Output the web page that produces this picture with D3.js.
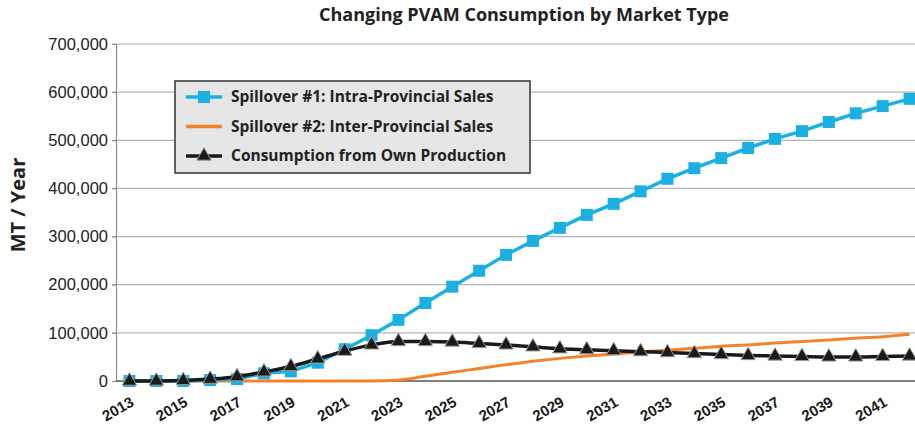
<!DOCTYPE html>
<html>
<head>
<meta charset="utf-8">
<script src="https://cdn.jsdelivr.net/npm/d3@7"></script>
<style>
  body { margin: 0; background: #fff; }
  svg { display: block; font-family: "Open Sans", "Noto Sans", sans-serif; }
</style>
</head>
<body>
<div id="chart"></div>
<script>
var years = d3.range(2013, 2043);
var tickYears = years.filter(function (d) { return d % 2 === 1; });

var intraSales = [0, 0, 0, 2000, 4000, 16000, 20000, 38000, 66000, 95000,
    127000, 162000, 196000, 229000, 262000, 291000, 318000, 345000, 368000, 394000,
    420000, 442000, 463000, 484000, 503000, 519000, 538000, 556000, 571000, 586000];
var interSales = [0, 0, 0, 0, 0, 0, 0, 0, 0, 0,
    2000, 10000, 18000, 26000, 34000, 41000, 47000, 52000, 56000, 60000,
    64000, 68000, 72000, 75000, 79000, 82000, 85000, 89000, 92000, 97000];
var ownProduction = [0, 0, 1000, 4000, 9000, 19000, 30000, 46000, 62000, 75000,
    82000, 82000, 81000, 78000, 75000, 71000, 67000, 65000, 63000, 61000,
    59000, 57000, 55000, 53000, 52000, 51000, 50000, 50000, 51000, 52000];
var yTicks = [0, 100000, 200000, 300000, 400000, 500000, 600000, 700000];

var seriesNames = ["Spillover #1: Intra-Provincial Sales",
    "Spillover #2: Inter-Provincial Sales",
    "Consumption from Own Production"];

var width = 915, height = 430;
var margin = { top: 44, left: 116, bottom: 49 };
var plotRight = 923;

var svg = d3.select("#chart").append("svg")
    .attr("width", width)
    .attr("height", height);

var x = d3.scalePoint().domain(years).range([margin.left, plotRight]).padding(0.5);
var y = d3.scaleLinear().domain([0, 700000]).range([height - margin.bottom, margin.top]);

// gridlines
svg.append("g")
    .selectAll("line")
    .data(yTicks.slice(1))
    .enter()
    .append("line")
    .attr("x1", margin.left - 4)
    .attr("x2", width)
    .attr("y1", function (d) { return y(d); })
    .attr("y2", function (d) { return y(d); })
    .attr("stroke", "#b4b4b4")
    .attr("stroke-width", 1.2);

// y axis
var yAxis = svg.append("g")
    .attr("transform", "translate(" + margin.left + ",0)")
    .call(d3.axisLeft(y).tickValues(yTicks).tickSize(4).tickPadding(4).tickFormat(d3.format(",")));
yAxis.select(".domain").attr("stroke", "#8c8c8c").attr("stroke-width", 1.2);
yAxis.selectAll(".tick line").attr("stroke", "#8c8c8c");
yAxis.selectAll("text")
    .attr("fill", "#222")
    .style("font-size", "16.5px");

// x axis
var xAxis = svg.append("g")
    .attr("transform", "translate(0," + y(0) + ")")
    .call(d3.axisBottom(x).tickValues(tickYears).tickSize(0).tickPadding(0));
xAxis.select(".domain").attr("stroke", "#555").attr("stroke-width", 1.4)
    .attr("d", "M" + margin.left + ",0H" + width);
xAxis.selectAll("text")
    .attr("fill", "#1a1a1a")
    .style("font-size", "15px")
    .style("font-weight", "bold")
    .attr("text-anchor", "end")
    .attr("dy", 0)
    .attr("transform", "translate(5,24) rotate(-30)");

var line = d3.line()
    .x(function (d, i) { return x(years[i]); })
    .y(function (d) { return y(d); });
var smooth = d3.line()
    .curve(d3.curveMonotoneX)
    .x(function (d, i) { return x(years[i]); })
    .y(function (d) { return y(d); });

var blue = "#1cb0e2", orange = "#f5822a", dark = "#1a1a1a";

svg.append("path")
    .datum(interSales)
    .attr("d", smooth)
    .attr("fill", "none")
    .attr("stroke", orange)
    .attr("stroke-width", 3);

svg.append("path")
    .datum(intraSales)
    .attr("d", line)
    .attr("fill", "none")
    .attr("stroke", blue)
    .attr("stroke-width", 3.5);

svg.append("g")
    .selectAll("rect")
    .data(intraSales)
    .enter()
    .append("rect")
    .attr("x", function (d, i) { return x(years[i]) - 6; })
    .attr("y", function (d) { return y(d) - 6; })
    .attr("width", 12)
    .attr("height", 12)
    .attr("fill", blue);

svg.append("path")
    .datum(ownProduction)
    .attr("d", smooth)
    .attr("fill", "none")
    .attr("stroke", dark)
    .attr("stroke-width", 3.5);

var tri = d3.symbol().type(d3.symbolTriangle).size(90);
svg.append("g")
    .selectAll("path")
    .data(ownProduction)
    .enter()
    .append("path")
    .attr("d", tri)
    .attr("transform", function (d, i) { return "translate(" + x(years[i]) + "," + y(d) + ")"; })
    .attr("fill", dark)
    .attr("stroke", "#9a9a9a")
    .attr("stroke-width", 1);

// title
svg.append("text")
    .attr("x", 524)
    .attr("y", 21)
    .attr("text-anchor", "middle")
    .style("font-size", "18px")
    .style("font-weight", "bold")
    .attr("fill", "#222")
    .text("Changing PVAM Consumption by Market Type");

svg.append("text")
    .attr("transform", "translate(25,205) rotate(-90)")
    .attr("text-anchor", "middle")
    .style("font-size", "20px")
    .style("font-weight", "bold")
    .attr("fill", "#222")
    .text("MT / Year");

// legend
var legend = svg.append("g").attr("transform", "translate(175,81)");
legend.append("rect")
    .attr("width", 355)
    .attr("height", 92)
    .attr("fill", "#e6e6e6")
    .attr("stroke", "#333")
    .attr("stroke-width", 1.5);

var item = legend.selectAll(".item")
    .data(seriesNames)
    .enter()
    .append("g")
    .attr("class", "item")
    .attr("transform", function (d, i) { return "translate(0," + (16 + i * 29.5) + ")"; });

item.append("line")
    .attr("x1", 11).attr("x2", 47)
    .attr("stroke", function (d, i) { return [blue, orange, dark][i]; })
    .attr("stroke-width", 3.5);

item.filter(function (d, i) { return i === 0; })
    .append("rect")
    .attr("x", 23).attr("y", -6).attr("width", 12).attr("height", 12)
    .attr("fill", blue);

item.filter(function (d, i) { return i === 2; })
    .append("path")
    .attr("d", tri)
    .attr("transform", "translate(29,0)")
    .attr("fill", dark)
    .attr("stroke", "#9a9a9a");

item.append("text")
    .attr("x", 56)
    .attr("dy", "0.35em")
    .style("font-size", "15.5px")
    .style("font-weight", "bold")
    .attr("fill", "#222")
    .text(String);
</script>
</body>
</html>
